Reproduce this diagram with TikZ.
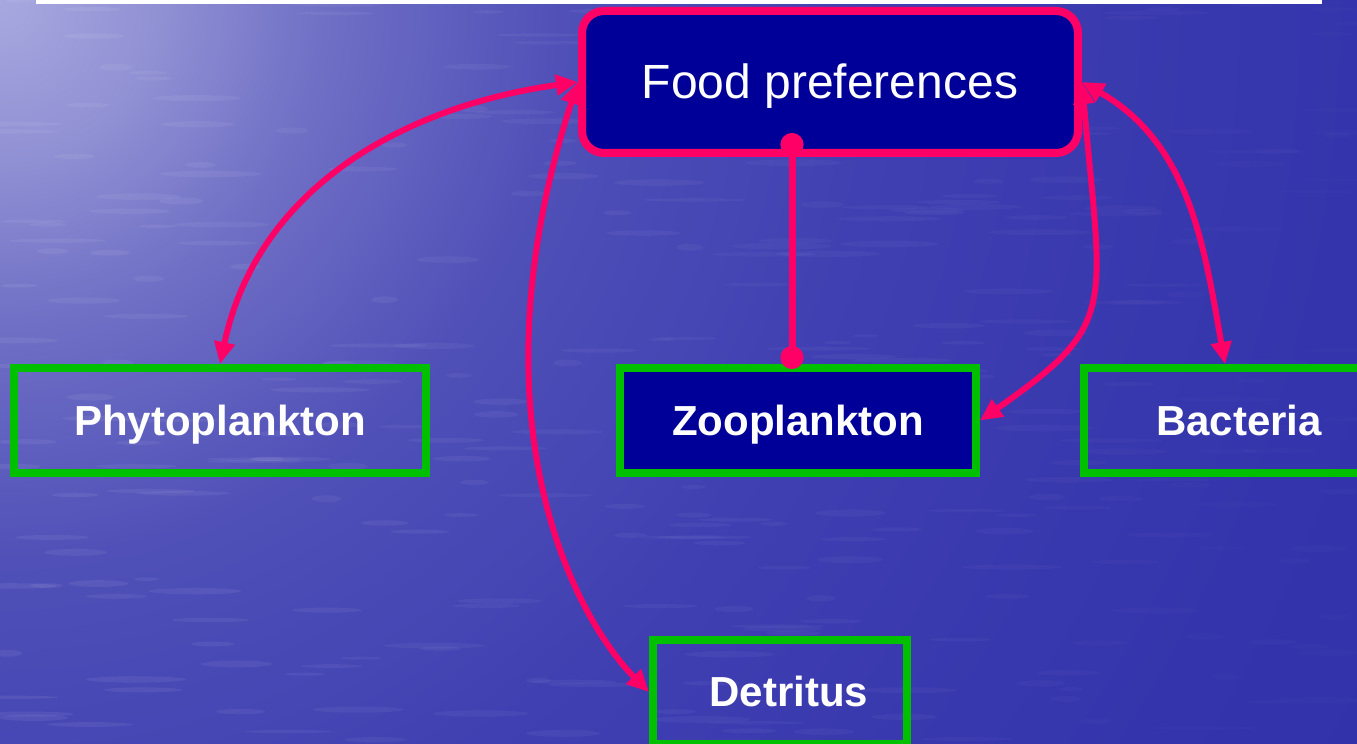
\documentclass[tikz,border=0pt]{standalone}
\usepackage{fontspec}
\setmainfont{Liberation Sans}
\usetikzlibrary{arrows.meta,calc}

\definecolor{linkpink}{HTML}{FF0066}
\definecolor{boxgreen}{HTML}{00C000}
\definecolor{navy}{HTML}{000099}
\definecolor{waterA}{HTML}{A8A8E0}
\definecolor{waterB}{HTML}{9090D4}
\definecolor{waterC}{HTML}{7070C6}
\definecolor{waterD}{HTML}{5050B8}
\definecolor{waterE}{HTML}{4040B2}
\definecolor{waterF}{HTML}{3434AC}
\definecolor{waterG}{HTML}{2E2EA8}
\definecolor{waterH}{HTML}{2C2CA6}

% light glow in the upper left corner of the water backdrop
\pgfdeclareradialshading{waterglow}{\pgfpoint{0bp}{0bp}}{%
  color(0bp)=(waterA); color(2bp)=(waterB); color(4bp)=(waterC);
  color(7bp)=(waterD); color(11bp)=(waterE); color(17bp)=(waterF);
  color(25bp)=(waterG); color(50bp)=(waterH)}

\begin{document}
\begin{tikzpicture}[x=1pt,y=1pt,
  >={Triangle[length=22pt,width=20pt]},
  topic/.style={draw=linkpink, line width=8pt, fill=navy, rounded corners=22pt,
    text=white, font=\fontsize{48}{56}\selectfont,
    text height=34pt, text depth=0pt, inner sep=0pt},
  item/.style={draw=boxgreen, line width=8pt, text=white,
    font=\bfseries\fontsize{42}{50}\selectfont,
    text height=30pt, text depth=0pt, inner sep=0pt},
  link/.style={draw=linkpink, line width=6pt, <->},
  tie/.style={draw=linkpink, line width=7pt,
    {Circle[length=23pt,width=23pt]}-{Circle[length=23pt,width=23pt]}},
]
\useasboundingbox (0,0) rectangle (1357,744);

% water backdrop
\begin{scope}
  \clip (0,0) rectangle (1357,744);
  \fill[waterH] (0,0) rectangle (1357,744);
  \shade[shading=waterglow] (0,744) circle [radius=2000pt];
  \pgfmathsetseed{42}
  \foreach \k in {1,...,320}{
    \pgfmathsetmacro\stx{rnd*1357}
    \pgfmathsetmacro\sty{rnd*744}
    \pgfmathsetmacro\stl{12+rnd*40}
    \pgfmathsetmacro\sth{1.5+rnd*2}
    \pgfmathsetmacro\sto{0.015+0.05*(1-\stx/1357)}
    \fill[white, opacity=\sto] (\stx,\sty) ellipse [x radius=\stl pt, y radius=\sth pt];
  }
\end{scope}
\fill[white] (36,740) rectangle (1322,744);

% boxes
\node[topic, minimum width=496pt, minimum height=142pt] (fp) at (830,662) {Food preferences};
\node[item, minimum width=412pt, minimum height=105pt] (phyto) at (220,323.5) {Phytoplankton};
\node[item, fill=navy, minimum width=356pt, minimum height=105pt] (zoo) at (798,323.5) {Zooplankton};
\node[item, minimum width=310pt, minimum height=105pt] (bact) at (1239,323.5) {Bacteria};
\node[item, minimum width=254pt, minimum height=104pt] (det) at (780,52) {\hspace{18pt}Detritus};

% connectors
\draw[link] (fp.west) to[out=188,in=78] (phyto.north);
\draw[link] (fp.west) .. controls +(252:360) and +(135:100) .. (det.west);
\draw[link] (fp.east) .. controls +(-85:230) and +(35:170) .. (zoo.east);
\draw[link] (fp.east) to[out=-30,in=100] ([xshift=-14pt]bact.north);
\draw[tie, shorten <=-24pt, shorten >=-5pt]
  ([xshift=-6pt]fp.south -| zoo.north) -- ([xshift=-6pt]zoo.north);
\end{tikzpicture}
\end{document}
